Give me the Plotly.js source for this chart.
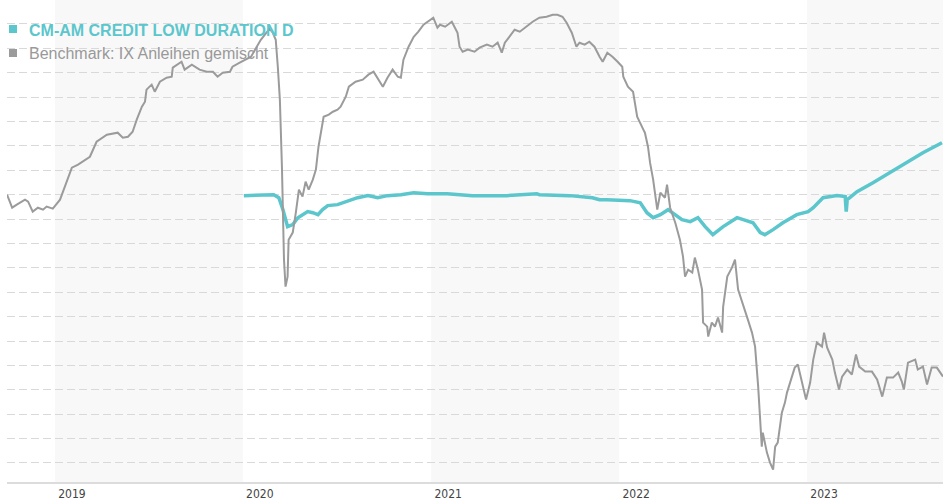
<!DOCTYPE html>
<html>
<head>
<meta charset="utf-8">
<script src="https://cdn.plot.ly/plotly-3.0.1.min.js"></script>
<style>html,body{margin:0;padding:0;background:#fff;}#chart{width:943px;height:500px;}</style>
</head>
<body>
<div id="chart"></div>
<script>
const fundName = "CM-AM CREDIT LOW DURATION D";
const benchName = "Benchmark: IX Anleihen gemischt";
const yearTicks = ["2019-01-01","2020-01-01","2021-01-01","2022-01-01","2023-01-01"];
const yearLabels = ["2019","2020","2021","2022","2023"];
const shadedYears = [["2019-01-01","2020-01-01"],["2021-01-01","2022-01-01"],["2023-01-01","2024-01-01"]];

const fundDates = ["2020-01-03","2020-03-01","2020-03-11","2020-03-19","2020-03-28","2020-04-07","2020-04-17","2020-04-26","2020-05-06","2020-05-16","2020-05-26","2020-06-04","2020-06-14","2020-07-03","2020-07-23","2020-08-11","2020-08-31","2020-09-19","2020-10-08","2020-11-03","2020-11-28","2020-12-25","2021-02-01","2021-03-22","2021-05-27","2021-07-25","2021-07-30","2021-09-27","2021-11-10","2021-11-24","2021-12-08","2022-01-22","2022-02-11","2022-02-24","2022-03-08","2022-03-22","2022-04-06","2022-04-20","2022-05-03","2022-05-19","2022-06-03","2022-06-17","2022-07-02","2022-07-22","2022-08-18","2022-08-30","2022-09-18","2022-10-02","2022-10-11","2022-10-27","2022-11-15","2022-12-12","2023-01-03","2023-01-13","2023-02-01","2023-02-28","2023-03-16","2023-03-18","2023-03-20","2023-03-25","2023-04-08","2023-05-09","2023-06-11","2023-07-14","2023-08-14","2023-09-20"];
const fundValues = [99.92,100.00,99.75,98.77,97.38,97.54,98.11,98.36,98.61,98.52,98.36,98.77,99.10,99.18,99.51,99.75,99.92,99.75,99.92,100.00,100.16,100.08,100.08,99.92,99.92,100.08,100.00,99.92,99.75,99.59,99.59,99.51,99.34,98.52,98.11,98.36,98.77,98.36,97.95,97.79,98.11,97.38,96.72,97.38,98.11,97.95,97.70,96.89,96.72,97.13,97.70,98.36,98.61,98.93,99.75,99.92,99.84,98.61,99.60,99.75,100.25,100.98,101.80,102.62,103.44,104.26];

const benchDates = ["2018-09-30","2018-10-04","2018-10-10","2018-10-19","2018-11-04","2018-11-10","2018-11-19","2018-11-29","2018-12-09","2018-12-16","2018-12-28","2019-01-11","2019-01-24","2019-02-03","2019-02-15","2019-02-28","2019-03-10","2019-03-23","2019-04-12","2019-05-03","2019-05-13","2019-05-23","2019-06-01","2019-06-09","2019-06-19","2019-06-25","2019-06-28","2019-07-08","2019-07-14","2019-07-24","2019-08-06","2019-08-16","2019-08-18","2019-09-04","2019-09-10","2019-09-24","2019-10-09","2019-10-23","2019-11-04","2019-11-13","2019-11-23","2019-12-07","2019-12-12","2019-12-26","2020-01-17","2020-02-05","2020-02-20","2020-02-22","2020-02-28","2020-03-05","2020-03-09","2020-03-13","2020-03-17","2020-03-21","2020-03-24","2020-03-28","2020-03-30","2020-04-07","2020-04-13","2020-04-19","2020-04-26","2020-05-02","2020-05-08","2020-05-16","2020-05-22","2020-05-27","2020-06-06","2020-06-16","2020-06-24","2020-07-03","2020-07-09","2020-07-19","2020-07-25","2020-08-07","2020-08-21","2020-09-01","2020-09-11","2020-09-21","2020-09-29","2020-10-08","2020-10-18","2020-10-28","2020-11-03","2020-11-08","2020-11-18","2020-11-28","2020-12-07","2020-12-17","2021-01-05","2021-01-13","2021-01-18","2021-01-28","2021-02-10","2021-02-16","2021-02-21","2021-02-25","2021-03-03","2021-03-13","2021-03-26","2021-04-05","2021-04-19","2021-04-30","2021-05-10","2021-05-18","2021-05-24","2021-06-02","2021-06-12","2021-06-22","2021-07-05","2021-07-17","2021-07-30","2021-08-13","2021-08-25","2021-09-03","2021-09-13","2021-09-21","2021-10-01","2021-10-10","2021-10-16","2021-10-26","2021-11-04","2021-11-14","2021-11-24","2021-11-30","2021-12-09","2021-12-19","2021-12-29","2022-01-07","2022-01-09","2022-01-18","2022-01-28","2022-02-05","2022-02-17","2022-02-20","2022-02-26","2022-03-02","2022-03-08","2022-03-12","2022-03-16","2022-03-22","2022-03-25","2022-03-31","2022-04-04","2022-04-10","2022-04-20","2022-04-29","2022-05-05","2022-05-09","2022-05-15","2022-05-23","2022-05-28","2022-06-03","2022-06-11","2022-06-13","2022-06-21","2022-06-23","2022-06-30","2022-07-06","2022-07-12","2022-07-20","2022-07-22","2022-07-30","2022-08-08","2022-08-14","2022-08-20","2022-08-30","2022-09-08","2022-09-16","2022-09-22","2022-09-28","2022-10-02","2022-10-05","2022-10-07","2022-10-15","2022-10-21","2022-10-27","2022-10-31","2022-11-05","2022-11-13","2022-11-19","2022-11-23","2022-12-03","2022-12-08","2022-12-14","2022-12-22","2022-12-30","2023-01-07","2023-01-13","2023-01-20","2023-01-30","2023-02-03","2023-02-09","2023-02-19","2023-02-24","2023-03-04","2023-03-10","2023-03-20","2023-03-29","2023-04-06","2023-04-12","2023-04-24","2023-05-07","2023-05-17","2023-05-27","2023-06-05","2023-06-17","2023-06-27","2023-07-04","2023-07-08","2023-07-16","2023-07-30","2023-08-04","2023-08-14","2023-08-22","2023-08-31","2023-09-10","2023-09-22"];
const benchValues = [100.00,99.59,98.93,99.18,99.59,99.43,98.61,98.93,98.77,99.02,98.85,99.59,100.98,102.21,102.46,102.87,103.11,104.34,104.92,105.08,104.67,104.75,105.16,106.15,107.21,107.62,108.61,109.02,108.44,109.26,109.59,109.67,110.41,110.90,110.25,110.66,110.25,110.08,110.08,109.67,110.00,110.08,110.49,110.82,111.31,112.70,113.52,113.61,113.28,112.70,110.49,107.79,102.30,94.67,92.46,93.28,96.31,96.89,98.52,100.41,99.84,101.07,100.41,101.23,102.05,103.93,106.39,106.56,106.80,106.97,107.21,108.03,108.85,109.26,109.43,109.84,110.08,109.43,108.85,109.59,110.25,109.67,109.59,111.07,112.13,112.95,113.36,113.93,114.51,113.69,113.93,113.77,114.18,113.69,113.28,112.13,111.72,111.89,111.72,112.05,112.30,112.13,112.46,111.64,112.46,112.95,113.52,113.36,113.77,114.18,114.51,114.59,114.75,114.75,114.59,114.10,113.28,112.13,112.46,112.30,112.54,112.13,111.31,110.90,111.64,111.31,110.90,110.49,109.67,108.85,108.44,106.39,105.33,105.08,103.93,102.62,101.23,99.84,98.77,100.16,100.00,99.75,100.82,98.93,97.70,96.31,94.92,93.28,93.85,93.61,94.84,93.85,92.21,89.51,89.18,88.36,89.51,89.18,89.92,88.69,90.82,93.28,94.02,94.67,92.21,90.82,89.75,88.69,87.54,84.26,81.31,79.34,80.49,78.85,78.03,77.46,79.34,79.67,82.13,82.95,83.77,85.25,85.82,86.07,84.59,83.20,84.59,86.48,87.87,87.54,88.69,87.46,86.48,85.41,84.02,85.08,85.66,85.25,86.89,85.90,85.49,85.49,84.84,83.44,85.00,85.00,85.41,84.67,84.02,86.23,86.48,85.66,85.90,84.43,85.82,85.82,85.08];

const fundColor = "#5bc6cc";
const benchColor = "#9b9b9b";

const traces = [
  {x: fundDates, y: fundValues, type: "scatter", mode: "lines", name: fundName,
   line: {color: fundColor, width: 3.5}, hoverinfo: "skip"},
  {x: benchDates, y: benchValues, type: "scatter", mode: "lines", name: benchName,
   line: {color: benchColor, width: 2}, hoverinfo: "skip"}
];

const shapes = shadedYears.map(p => ({
  type: "rect", xref: "x", yref: "paper", x0: p[0], x1: p[1], y0: 0, y1: 1,
  fillcolor: "#f8f8f8", line: {width: 0}, layer: "below"
}));
shapes.push({type: "rect", xref: "paper", yref: "paper", xsizemode: "pixel", ysizemode: "pixel",
  xanchor: 0, yanchor: 1, x0: 2, x1: 10, y0: -25, y1: -33, fillcolor: fundColor, line: {width: 0}});
shapes.push({type: "rect", xref: "paper", yref: "paper", xsizemode: "pixel", ysizemode: "pixel",
  xanchor: 0, yanchor: 1, x0: 2, x1: 10, y0: -49, y1: -57, fillcolor: benchColor, line: {width: 0}});

const layout = {
  width: 943, height: 500,
  margin: {l: 7, r: 0, t: 0, b: 18, pad: 0},
  paper_bgcolor: "#ffffff", plot_bgcolor: "#ffffff",
  showlegend: false,
  xaxis: {
    type: "date", range: ["2018-09-30", "2023-09-22"],
    tickmode: "array", tickvals: yearTicks, ticktext: yearLabels,
    ticklabelshift: 17, ticks: "", showgrid: false, zeroline: false,
    showline: true, linecolor: "#dcdcdc", linewidth: 2,
    tickfont: {family: "DejaVu Sans Condensed, DejaVu Sans, sans-serif", size: 12, color: "#444444"}
  },
  yaxis: {
    range: [76.44, 115.96], dtick: 2, tick0: 0,
    showticklabels: false, ticks: "", zeroline: false,
    showgrid: true, gridcolor: "#d9d9d9", gridwidth: 1, griddash: "8px,4px"
  },
  shapes: shapes,
  annotations: [
    {xref: "paper", yref: "paper", x: 0, y: 1, xanchor: "left", yanchor: "middle",
     xshift: 20, yshift: -30, showarrow: false, text: "<b>" + fundName + "</b>",
     font: {family: "Liberation Sans, Arial, sans-serif", size: 16, color: fundColor}},
    {xref: "paper", yref: "paper", x: 0, y: 1, xanchor: "left", yanchor: "middle",
     xshift: 20, yshift: -53, showarrow: false, text: benchName,
     font: {family: "Liberation Sans, Arial, sans-serif", size: 16, color: "#999999"}}
  ]
};

Plotly.newPlot("chart", traces, layout, {staticPlot: true, displayModeBar: false});
</script>
</body>
</html>
